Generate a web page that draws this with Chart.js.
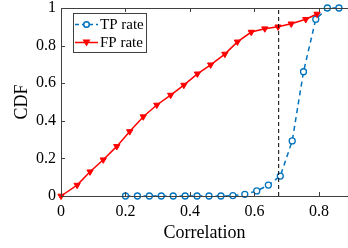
<!DOCTYPE html>
<html>
<head>
<meta charset="utf-8">
<script src="https://cdn.jsdelivr.net/npm/chart.js@4/dist/chart.umd.min.js"></script>
<style>
  html, body { margin: 0; padding: 0; background: #fff; }
  canvas { display: block; }
</style>
</head>
<body>
<canvas id="cdf" width="348" height="248"></canvas>
<script>
// TP rate (blue circles, dashed)
const tpX = [0.2, 0.237, 0.274, 0.311, 0.348, 0.385, 0.422, 0.459, 0.496, 0.533,
             0.57, 0.607, 0.643, 0.68, 0.717, 0.752, 0.79, 0.826, 0.862];
const tpY = [0, 0, 0, 0, 0, 0, 0, 0, 0, 0.002,
             0.009, 0.027, 0.058, 0.106, 0.293, 0.661, 0.94, 1, 1];

// FP rate (red down triangles, solid)
const fpX = [0, 0.05, 0.09, 0.131, 0.173, 0.213, 0.255, 0.297, 0.34, 0.381,
             0.423, 0.464, 0.508, 0.547, 0.59, 0.632, 0.673, 0.714, 0.759, 0.794];
const fpY = [0, 0.058, 0.129, 0.193, 0.264, 0.343, 0.422, 0.484, 0.537, 0.59,
             0.65, 0.698, 0.755, 0.82, 0.872, 0.89, 0.90, 0.916, 0.94, 0.968];

// threshold line
const thresholdX = 0.675;

const xTicks = [0, 0.2, 0.4, 0.6, 0.8];
const yTicks = [0, 0.2, 0.4, 0.6, 0.8, 1];

const blue = 'rgb(0, 114, 189)';
const red = 'rgb(255, 0, 0)';
const axisColor = '#404040';
const serif = '"Liberation Serif", "DejaVu Serif", serif';

const toPoints = (xs, ys) => xs.map((x, i) => ({ x: x, y: ys[i] }));

// ticks inside the box + top border, like the original plot
const boxPlugin = {
    id: 'box',
    afterDatasetsDraw(chart) {
        const { ctx, chartArea: a, scales } = chart;
        ctx.save();
        ctx.strokeStyle = axisColor;
        ctx.lineWidth = 1;
        ctx.beginPath();
        ctx.moveTo(a.left + 0.5, a.top + 0.5);
        ctx.lineTo(a.right, a.top + 0.5);
        ctx.moveTo(a.left + 0.5, a.top);
        ctx.lineTo(a.left + 0.5, a.bottom + 0.5);
        ctx.lineTo(a.right, a.bottom + 0.5);
        xTicks.forEach(v => {
            const px = Math.round(scales.x.getPixelForValue(v)) + 0.5;
            ctx.moveTo(px, a.bottom);
            ctx.lineTo(px, a.bottom - 4);
            ctx.moveTo(px, a.top);
            ctx.lineTo(px, a.top + 4);
        });
        yTicks.forEach(v => {
            const py = Math.round(scales.y.getPixelForValue(v)) + 0.5;
            ctx.moveTo(a.left, py);
            ctx.lineTo(a.left + 4, py);
        });
        ctx.stroke();
        ctx.restore();
    },
    afterDraw(chart) {
        const ctx = chart.ctx;
        const bx = 73, by = 13, bw = 73, bh = 39;
        ctx.save();
        ctx.fillStyle = '#fff';
        ctx.fillRect(bx, by, bw, bh);
        ctx.strokeStyle = axisColor;
        ctx.lineWidth = 1;
        ctx.strokeRect(bx + 0.5, by + 0.5, bw, bh);

        // TP entry
        let y = 24.5;
        ctx.strokeStyle = blue;
        ctx.lineWidth = 1.5;
        ctx.setLineDash([4, 3]);
        ctx.beginPath();
        ctx.moveTo(75, y);
        ctx.lineTo(98, y);
        ctx.stroke();
        ctx.setLineDash([]);
        ctx.fillStyle = '#fff';
        ctx.beginPath();
        ctx.arc(86.5, y, 2.8, 0, Math.PI * 2);
        ctx.fill();
        ctx.stroke();

        // FP entry
        y = 42.5;
        ctx.strokeStyle = red;
        ctx.beginPath();
        ctx.moveTo(75, y);
        ctx.lineTo(98, y);
        ctx.stroke();
        ctx.fillStyle = red;
        ctx.beginPath();
        ctx.moveTo(82.5, y - 3);
        ctx.lineTo(90.5, y - 3);
        ctx.lineTo(86.5, y + 4);
        ctx.closePath();
        ctx.fill();

        ctx.fillStyle = '#000';
        ctx.font = '15px ' + serif;
        ctx.textBaseline = 'middle';
        ctx.fillText('TP rate', 100, 25);
        ctx.fillText('FP rate', 100, 43);
        ctx.restore();
    }
};

const data = {
    datasets: [{
        label: 'threshold',
        data: [{ x: thresholdX, y: 0 }, { x: thresholdX, y: 1 }],
        borderColor: '#000',
        borderWidth: 1,
        borderDash: [4, 3],
        pointRadius: 0,
        clip: false
    },
    {
        label: 'FP rate',
        data: toPoints(fpX, fpY),
        borderColor: red,
        backgroundColor: red,
        borderWidth: 1.5,
        pointStyle: 'triangle',
        rotation: 180,
        pointRadius: 3.6,
        pointBorderWidth: 1,
        clip: false
    },
    {
        label: 'TP rate',
        data: toPoints(tpX, tpY),
        borderColor: blue,
        backgroundColor: '#fff',
        borderWidth: 1.5,
        borderDash: [5, 4],
        pointStyle: 'circle',
        pointRadius: 3,
        pointBorderWidth: 1.3,
        clip: false
    }]
};

const config = {
    type: 'line',
    data: data,
    options: {
        responsive: false,
        animation: false,
        devicePixelRatio: 1,
        layout: { autoPadding: false, padding: { top: 8, right: 0, left: 0, bottom: 0 } },
        plugins: {
            legend: { display: false },
            tooltip: { enabled: false }
        },
        scales: {
            x: {
                type: 'linear',
                min: 0,
                max: 0.89,
                border: { display: false },
                grid: { display: false, drawTicks: false },
                ticks: {
                    stepSize: 0.2,
                    includeBounds: false,
                    padding: 6,
                    color: '#000',
                    font: { family: serif, size: 16 },
                    callback: v => String(+v.toFixed(1))
                },
                title: {
                    display: true,
                    text: 'Correlation',
                    color: '#000',
                    font: { family: serif, size: 18 },
                    padding: { top: 0, bottom: 4 }
                },
                afterFit: s => { s.height = 52; s.paddingLeft = 0; s.paddingRight = 0; }
            },
            y: {
                type: 'linear',
                min: 0,
                max: 1,
                border: { display: false },
                grid: { display: false, drawTicks: false },
                ticks: {
                    stepSize: 0.2,
                    padding: 5,
                    color: '#000',
                    font: { family: serif, size: 16 },
                    callback: v => String(+v.toFixed(1))
                },
                title: {
                    display: true,
                    text: 'CDF',
                    color: '#000',
                    font: { family: serif, size: 18 },
                    padding: { top: 11, bottom: 0 }
                },
                afterFit: s => { s.width = 61; s.paddingTop = 0; s.paddingBottom = 0; }
            }
        }
    },
    plugins: [boxPlugin]
};

const cdfChart = new Chart(document.getElementById('cdf'), config);
</script>
</body>
</html>
